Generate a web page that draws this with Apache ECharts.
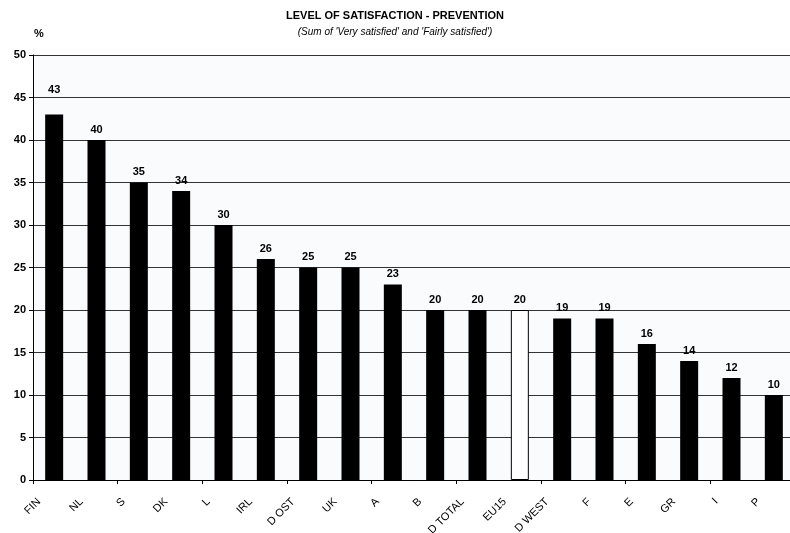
<!DOCTYPE html>
<html>
<head>
<meta charset="utf-8">
<script src="https://cdn.jsdelivr.net/npm/echarts@6/dist/echarts.min.js"></script>
<style>
  html, body { margin: 0; padding: 0; background: #ffffff; }
  #chart { width: 790px; height: 533px; }
</style>
</head>
<body>
<div id="chart"></div>
<script>
// Satisfaction with prevention, by country (% very + fairly satisfied)
const categories = ['FIN', 'NL', 'S', 'DK', 'L', 'IRL', 'D OST', 'UK', 'A', 'B',
  'D TOTAL', 'EU15', 'D WEST', 'F', 'E', 'GR', 'I', 'P'];
const values = [43, 40, 35, 34, 30, 26, 25, 25, 23, 20, 20, 20, 19, 19, 16, 14, 12, 10];
const averageCategory = 'EU15';
const yTicks = { min: 0, max: 50, step: 5 };

const FONT = '"Liberation Sans", Arial, sans-serif';

const PLOT = { left: 33, top: 55, width: 762, height: 425 };

const barData = values.map((v, i) => {
  const item = { value: v };
  if (categories[i] === averageCategory) {
    item.itemStyle = { color: '#ffffff', borderColor: '#000000', borderWidth: 1 };
  }
  if (i === 0) {
    item.label = { offset: [0, -14] };
  }
  return item;
});

// Country names sit on the category boundaries, so a second, label-only axis
// without boundary gap carries them (nudged slightly right of the tick marks)
const labelCategories = categories.concat(['']);

const chart = echarts.init(document.getElementById('chart'), null, { renderer: 'canvas' });
chart.setOption({
  animation: false,
  backgroundColor: '#ffffff',
  textStyle: { fontFamily: FONT },
  title: [
    {
      text: 'LEVEL OF SATISFACTION - PREVENTION',
      left: 'center', top: 5,
      textStyle: { fontFamily: FONT, fontSize: 11, fontWeight: 'bold', color: '#000' }
    },
    {
      text: "(Sum of 'Very satisfied' and 'Fairly satisfied')",
      left: 'center', top: 22,
      textStyle: { fontFamily: FONT, fontSize: 10, fontStyle: 'italic', fontWeight: 'normal', color: '#000' }
    },
    {
      text: '%',
      left: 29, top: 23,
      textStyle: { fontFamily: FONT, fontSize: 11, fontWeight: 'bold', color: '#000' }
    }
  ],
  grid: [
    {
      left: PLOT.left, top: PLOT.top, width: PLOT.width, height: PLOT.height,
      outerBoundsMode: 'none', containLabel: false,
      show: true, backgroundColor: '#fafbfd', borderWidth: 0
    },
    {
      left: PLOT.left + 6, top: PLOT.top, width: PLOT.width, height: PLOT.height,
      outerBoundsMode: 'none', containLabel: false,
      show: false
    }
  ],
  xAxis: [
    {
      type: 'category',
      gridIndex: 0,
      data: categories,
      boundaryGap: true,
      axisLine: { show: true, lineStyle: { color: '#000', width: 1 } },
      axisTick: { show: true, length: 4, lineStyle: { color: '#000' } },
      axisLabel: { show: false },
      splitLine: { show: false }
    },
    {
      type: 'category',
      gridIndex: 1,
      data: labelCategories,
      boundaryGap: false,
      position: 'bottom',
      axisLine: { show: false },
      axisTick: { show: false },
      splitLine: { show: false },
      axisLabel: {
        show: true, interval: 0, rotate: 45, margin: 20,
        fontFamily: FONT, fontSize: 11, color: '#000'
      }
    }
  ],
  yAxis: [
    {
      type: 'value',
      gridIndex: 0,
      min: yTicks.min, max: yTicks.max, interval: yTicks.step,
      axisLine: { show: true, lineStyle: { color: '#000', width: 1 } },
      axisTick: { show: true, length: 4, lineStyle: { color: '#000' } },
      axisLabel: { fontFamily: FONT, fontSize: 11, fontWeight: 'bold', color: '#000', margin: 7 },
      splitLine: { show: true, lineStyle: { color: '#333333', width: 1 } }
    },
    {
      type: 'value',
      gridIndex: 1,
      min: yTicks.min, max: yTicks.max,
      show: false
    }
  ],
  series: [
    {
      type: 'bar',
      xAxisIndex: 0,
      yAxisIndex: 0,
      data: barData,
      barWidth: 18,
      itemStyle: { color: '#000000' },
      label: {
        show: true, position: 'top', distance: 5,
        fontFamily: FONT, fontSize: 11, fontWeight: 'bold', color: '#000'
      }
    }
  ]
});
</script>
</body>
</html>
